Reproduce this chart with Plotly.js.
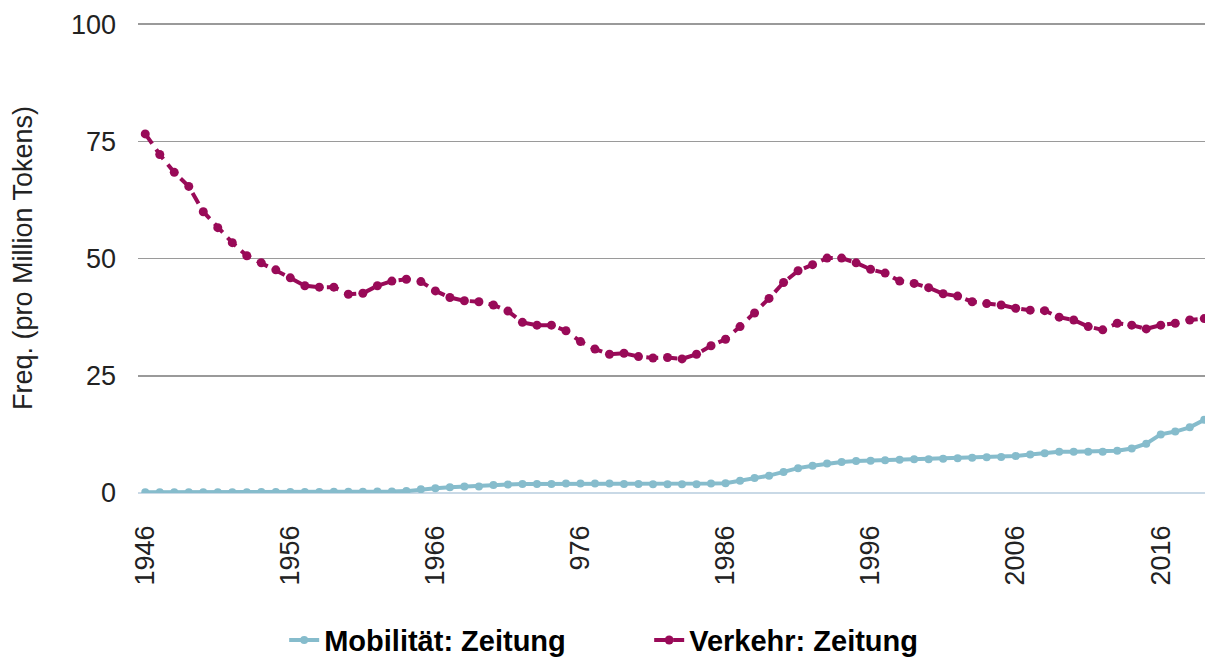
<!DOCTYPE html>
<html>
<head>
<meta charset="utf-8">
<script src="https://cdn.plot.ly/plotly-3.0.1.min.js"></script>
<style>html,body{margin:0;padding:0;background:#fff;}#chart{width:1205px;height:659px;}</style>
</head>
<body>
<div id="chart"></div>
<script>
const years = [];
for (let y = 1946; y <= 2019; y++) years.push(y);

const mobilitaet = [
  0.15, 0.15, 0.15, 0.15, 0.15, 0.15, 0.15, 0.15, 0.2, 0.2,
  0.2, 0.2, 0.2, 0.25, 0.25, 0.25, 0.3, 0.3, 0.4, 0.8,
  1.0, 1.2, 1.4, 1.4, 1.7, 1.8, 1.9, 1.9, 1.9, 2.0,
  2.0, 2.0, 2.0, 1.9, 1.9, 1.85, 1.85, 1.85, 1.85, 2.0,
  2.1, 2.6, 3.2, 3.7, 4.5, 5.3, 5.8, 6.3, 6.6, 6.8,
  6.9, 7.0, 7.1, 7.2, 7.2, 7.3, 7.4, 7.5, 7.6, 7.7,
  7.9, 8.2, 8.5, 8.8, 8.8, 8.8, 8.8, 9.0, 9.5, 10.5,
  12.5, 13.1, 14.0, 15.6
];

const verkehr = [
  76.6, 72.2, 68.4, 65.4, 60.0, 56.6, 53.4, 50.6, 49.1, 47.6,
  45.9, 44.2, 43.9, 43.9, 42.4, 42.6, 44.2, 45.2, 45.6, 45.1,
  43.1, 41.7, 41.0, 40.8, 40.1, 38.8, 36.4, 35.8, 35.8, 34.6,
  32.3, 30.7, 29.6, 29.8, 29.1, 28.8, 28.9, 28.6, 29.6, 31.4,
  32.8, 35.5, 38.4, 41.5, 44.9, 47.4, 48.7, 50.1, 50.1, 49.1,
  47.7, 46.9, 45.2, 44.7, 43.8, 42.5, 42.0, 40.8, 40.4, 40.1,
  39.4, 39.0, 38.9, 37.5, 36.9, 35.5, 34.8, 36.2, 35.8, 35.0,
  35.8, 36.2, 36.9, 37.2
];

const xTickVals = [1946, 1956, 1966, 1976, 1986, 1996, 2006, 2016];
const xTickText = ["1946", "1956", "1966", "976", "1986", "1996", "2006", "2016"];
const yTickVals = [0, 25, 50, 75, 100];
const seriesNames = ["Mobilität: Zeitung", "Verkehr: Zeitung"];

const traces = [
  {
    x: years, y: mobilitaet, name: seriesNames[0], type: 'scatter', mode: 'lines+markers',
    line: {color: '#86bccc', width: 4},
    marker: {color: '#86bccc', size: 8},
    cliponaxis: true
  },
  {
    x: years, y: verkehr, name: seriesNames[1], type: 'scatter', mode: 'lines+markers',
    line: {color: '#990a58', width: 4, dash: '12px,7px'},
    marker: {color: '#990a58', size: 9},
    cliponaxis: true
  }
];

const layout = {
  width: 1205, height: 659,
  margin: {l: 138, r: 0, t: 23, b: 166, autoexpand: false},
  paper_bgcolor: '#fff', plot_bgcolor: '#fff',
  font: {family: 'Liberation Sans, Arial, sans-serif', color: '#222', size: 27},
  showlegend: true,
  legend: {
    orientation: 'h', x: 0.137, xanchor: 'left', y: -0.313, yanchor: 'middle',
    font: {family: 'Liberation Sans, Arial, sans-serif', size: 29, color: '#000', weight: 'bold'},
    itemwidth: 30, entrywidth: 320, traceorder: 'normal', bgcolor: 'rgba(0,0,0,0)'
  },
  xaxis: {
    range: [1945.5, 2019.05],
    tickvals: xTickVals, ticktext: xTickText,
    tickangle: -90, automargin: false,
    showgrid: false, zeroline: false, showline: false,
    ticks: '', ticklabelstandoff: 26,
    tickfont: {size: 27, color: '#222'}
  },
  yaxis: {
    range: [0, 100.25], automargin: false,
    tickvals: yTickVals,
    showgrid: true, gridcolor: '#9a9a9a', gridwidth: 1.5,
    zeroline: true, zerolinecolor: '#c9d9e6', zerolinewidth: 2.5,
    showline: false, ticks: '', ticklabelstandoff: 21,
    tickfont: {size: 27, color: '#222'},
    title: {text: 'Freq. (pro Million Tokens)', font: {size: 27, color: '#222'}, standoff: 30}
  }
};

Plotly.newPlot('chart', traces, layout, {displayModeBar: false, staticPlot: true});
</script>
</body>
</html>
